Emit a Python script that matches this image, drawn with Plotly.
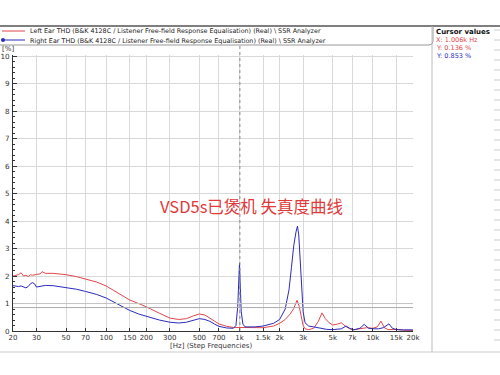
import plotly.graph_objects as go
import numpy as np

# ---- data ----
left_freq = [20, 21, 22, 23, 24, 25, 26, 27, 28, 30, 32, 33, 35, 40, 50, 60, 70, 85, 100, 120, 150, 175, 200,
             250, 300, 350, 400, 450, 500, 550, 600, 650, 700, 800, 900, 1000, 1200, 1500, 1800, 2000, 2200,
             2400, 2550, 2700, 2800, 2900, 3000, 3100, 3300, 3600, 3900, 4150, 4400, 4700, 5000, 5400, 5800,
             6200, 6700, 7200, 8000, 9000, 10000, 10800, 11500, 12200, 13000, 14000, 15000, 17000, 20000]
left_thd = [2.0, 2.02, 2.05, 2.12, 2.0, 2.03, 1.98, 2.05, 2.03, 2.06, 2.08, 2.16, 2.1, 2.1, 2.05, 1.98, 1.9, 1.78, 1.64, 1.42, 1.13, 1.0, 0.88,
            0.65, 0.47, 0.42, 0.45, 0.55, 0.62, 0.58, 0.48, 0.36, 0.26, 0.17, 0.13, 0.13, 0.12, 0.12, 0.18, 0.28, 0.42,
            0.62, 0.82, 1.12, 0.9, 0.5, 0.2, 0.08, 0.05, 0.1, 0.35, 0.66, 0.45, 0.3, 0.22, 0.25, 0.3,
            0.18, 0.08, 0.05, 0.08, 0.12, 0.1, 0.15, 0.36, 0.12, 0.05, 0.05, 0.06, 0.03, 0.02]

right_freq = [20, 21, 22, 23, 24, 25, 26, 27, 28, 29, 30, 32, 35, 40, 50, 60, 70, 85, 100, 120, 150, 175, 200,
              250, 300, 350, 400, 450, 500, 550, 600, 650, 700, 800, 900, 940, 970, 990, 1000, 1010, 1030, 1060,
              1100, 1300, 1500, 1800, 2000, 2200, 2350, 2450, 2550, 2650, 2720, 2780, 2850, 2920, 3000, 3100,
              3300, 3600, 4000, 4500, 5000, 5800, 6300, 6700, 7200, 8000, 8600, 9300, 10000, 11000, 12000,
              13200, 14000, 15000, 17000, 20000]
right_thd = [1.65, 1.64, 1.62, 1.64, 1.6, 1.57, 1.62, 1.72, 1.76, 1.72, 1.6, 1.63, 1.66, 1.65, 1.58, 1.52, 1.44, 1.33, 1.2, 1.0, 0.75, 0.62, 0.53,
             0.4, 0.32, 0.29, 0.32, 0.4, 0.45, 0.42, 0.35, 0.25, 0.17, 0.11, 0.1, 0.2, 0.9, 2.0, 2.47, 1.8, 0.7, 0.25,
             0.15, 0.15, 0.18, 0.28, 0.42, 0.8, 1.5, 2.3, 3.1, 3.6, 3.82, 3.5, 2.6, 1.5, 0.7, 0.3,
             0.18, 0.15, 0.1, 0.06, 0.05, 0.08, 0.18, 0.1, 0.04, 0.1, 0.24, 0.1, 0.08, 0.08, 0.12,
             0.26, 0.1, 0.05, 0.04, 0.04]

x_tickvals = [20, 30, 50, 70, 100, 150, 200, 300, 500, 700, 1000, 1500, 2000, 3000, 5000, 7000, 10000, 15000, 20000]
x_ticktext = ["20", "30", "50", "70", "100", "150", "200", "300", "500", "700", "1k", "1.5k", "2k", "3k", "5k", "7k", "10k", "15k", "20k"]
y_tickvals = list(range(0, 11))

legend_labels = [
    "Left Ear THD (B&K 4128C / Listener Free-field Response Equalisation) (Real) \\ SSR Analyzer",
    "Right Ear THD (B&K 4128C / Listener Free-field Response Equalisation) (Real) \\ SSR Analyzer",
]
cursor_x = 1006
cursor_y_left = 0.136
cursor_y_right = 0.853

RED = "#e0474c"
BLUE = "#2b2bbf"
FONT = "DejaVu Sans"

# ---- layout geometry (pixels -> paper) ----
W, H = 500, 375
L, R, T, B = 13, 87, 55, 44
PW, PH = W - L - R, H - T - B


def px(x):
    return (x - L) / PW


def py(y):
    return (H - B - y) / PH


fig = go.Figure()
fig.add_trace(go.Scatter(x=left_freq, y=left_thd, mode="lines", line=dict(color=RED, width=1),
                         name=legend_labels[0], showlegend=False))
fig.add_trace(go.Scatter(x=right_freq, y=right_thd, mode="lines", line=dict(color=BLUE, width=1),
                         name=legend_labels[1], showlegend=False))

fig.update_xaxes(type="log", range=[np.log10(20), np.log10(20000)], tickvals=x_tickvals, ticktext=x_ticktext,
                 showgrid=True, gridcolor="#d9d9d9", gridwidth=1, showline=True, linecolor="#333", linewidth=1,
                 ticks="inside", ticklen=3, tickcolor="#333", tickfont=dict(family=FONT, size=7, color="#333"),
                 ticklabelstandoff=0, zeroline=False, mirror=False, automargin=False)
fig.update_yaxes(range=[0, 10.05], tickvals=y_tickvals, showgrid=True, gridcolor="#d9d9d9", gridwidth=1,
                 showline=True, linecolor="#333", linewidth=1, ticks="inside", ticklen=4, tickcolor="#333",
                 minor=dict(ticks="inside", ticklen=2, dtick=0.2, tickcolor="#333"),
                 tickfont=dict(family=FONT, size=7.2, color="#333"), ticklabelstandoff=1,
                 zeroline=False, automargin=False)

shapes = []
# cursor lines
shapes.append(dict(type="line", xref="x", yref="paper", x0=cursor_x, x1=cursor_x, y0=0, y1=py(45),
                   line=dict(color="#888", width=1, dash="dot")))
shapes.append(dict(type="line", xref="paper", yref="y", x0=0, x1=1, y0=cursor_y_right, y1=cursor_y_right,
                   line=dict(color="#aaaaaa", width=1)))
shapes.append(dict(type="line", xref="paper", yref="y", x0=0, x1=1, y0=1.0, y1=1.0,
                   line=dict(color="#c4c4c4", width=1)))
# top dark line
shapes.append(dict(type="line", xref="paper", yref="paper", x0=px(0), x1=px(500), y0=py(26), y1=py(26),
                   line=dict(color="#555", width=1.5)))
# legend box
shapes.append(dict(type="path", xref="paper", yref="paper",
                   path=f"M {px(0)},{py(45)} L {px(429)},{py(45)} Q {px(433)},{py(45)} {px(433)},{py(41)} L {px(433)},{py(26)}",
                   line=dict(color="#999", width=1)))
# right panel divider
shapes.append(dict(type="line", xref="paper", yref="paper", x0=px(432), x1=px(432), y0=py(26), y1=py(352),
                   line=dict(color="#bbb", width=1)))
# bottom line
shapes.append(dict(type="line", xref="paper", yref="paper", x0=px(0), x1=px(500), y0=py(352), y1=py(352),
                   line=dict(color="#ccc", width=1)))
# legend line samples
shapes.append(dict(type="line", xref="paper", yref="paper", x0=px(2), x1=px(25), y0=py(31), y1=py(31),
                   line=dict(color=RED, width=1)))
shapes.append(dict(type="line", xref="paper", yref="paper", x0=px(2), x1=px(25), y0=py(40), y1=py(40),
                   line=dict(color=BLUE, width=1)))
shapes.append(dict(type="circle", xref="paper", yref="paper", x0=px(1), x1=px(5), y0=py(38), y1=py(42),
                   fillcolor=BLUE, line=dict(color=BLUE, width=0)))
# right panel small ticks
for yy in range(30, 350, 10):
    shapes.append(dict(type="line", xref="paper", yref="paper", x0=px(494), x1=px(500), y0=py(yy), y1=py(yy),
                       line=dict(color="#ccc", width=1)))
fig.update_layout(shapes=shapes)

ann = []
ann.append(dict(xref="paper", yref="paper", x=px(28), y=py(31), text=legend_labels[0], showarrow=False,
                xanchor="left", yanchor="middle", font=dict(family=FONT, size=6.4, color="#222")))
ann.append(dict(xref="paper", yref="paper", x=px(28), y=py(40.5), text=legend_labels[1], showarrow=False,
                xanchor="left", yanchor="middle", font=dict(family=FONT, size=6.4, color="#222")))
ann.append(dict(xref="paper", yref="paper", x=px(0), y=py(49), text="[%]", showarrow=False,
                xanchor="left", yanchor="middle", font=dict(family=FONT, size=7, color="#333")))
ann.append(dict(xref="paper", yref="paper", x=px(211), y=py(351.5), text="[Hz] (Step Frequencies)", showarrow=False,
                xanchor="center", yanchor="bottom", font=dict(family=FONT, size=7, color="#333")))
ann.append(dict(xref="paper", yref="paper", x=px(434), y=py(32), text="<b>Cursor values</b>", showarrow=False,
                xanchor="left", yanchor="middle", font=dict(family=FONT, size=7, color="#111")))
ann.append(dict(xref="paper", yref="paper", x=px(434), y=py(40), text=f"X: {cursor_x/1000:.3f}k Hz", showarrow=False,
                xanchor="left", yanchor="middle", font=dict(family=FONT, size=6.5, color=RED)))
ann.append(dict(xref="paper", yref="paper", x=px(434), y=py(48), text=f"Y: {cursor_y_left:.3f} %", showarrow=False,
                xanchor="left", yanchor="middle", font=dict(family=FONT, size=6.5, color=RED)))
ann.append(dict(xref="paper", yref="paper", x=px(434), y=py(56), text=f"Y: {cursor_y_right:.3f} %", showarrow=False,
                xanchor="left", yanchor="middle", font=dict(family=FONT, size=6.5, color=BLUE)))
ann.append(dict(xref="paper", yref="paper", x=px(251), y=py(206), text="VSD5s已煲机 失真度曲线", showarrow=False,
                xanchor="center", yanchor="middle",
                font=dict(family="Noto Sans CJK SC", size=16.5, color="#e03a3a")))
fig.update_layout(annotations=ann)

fig.update_layout(width=W, height=H, margin=dict(l=L, r=R, t=T, b=B, pad=0, autoexpand=False),
                  paper_bgcolor="white", plot_bgcolor="white", showlegend=False)

fig.write_html("out.html", config={"displayModeBar": False},
               post_script="document.body.style.margin='0';document.body.style.overflow='hidden';")
